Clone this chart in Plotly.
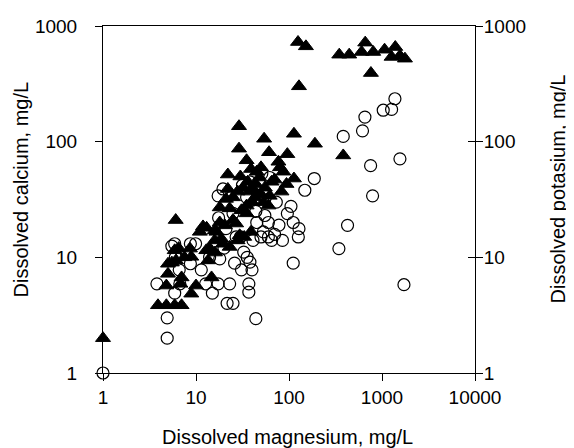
import plotly.graph_objects as go

# Calcium (triangles) vs magnesium
ca_mg = [1, 125, 152, 128, 347, 444, 660, 603, 805, 1066, 1389, 1268, 1559, 1765, 760, 383, 190, 113,
         29, 54, 29, 61, 96, 35, 77, 39, 22, 113, 6.05, 11.9, 15.9,
         3.9, 4.8, 5.9, 7.0, 4.8, 5.0, 5.0, 5.9, 6.1, 7.0,
         6.8, 8.9, 10, 8.6, 8.9, 12.9, 13.5, 14.7, 15.9, 16.6,
         18.7, 19.5, 23, 20.4, 25, 27, 29.5, 30.8, 18, 23,
         21, 22, 28, 32, 36, 38, 44, 48, 55, 43,
         53, 62, 70, 80, 87, 83, 94, 35, 28, 33,
         39, 13, 11,
         30, 40, 50, 45, 60, 25, 35, 65, 50, 42, 5.5, 6.5, 7.5, 16, 18, 14]
ca = [2, 727, 667, 301, 565, 565, 718, 596, 596, 624, 658, 540, 553, 522, 392, 76, 96, 117,
      136, 106, 87, 81, 78, 69, 67, 58, 52, 48, 21, 18.5, 17.1,
      3.85, 3.85, 3.85, 3.85, 5.7, 7.2, 8.8, 11.5, 9.4, 6.7,
      5.9, 4.85, 5.7, 11.9, 10.1, 11.5, 9.4, 6.7, 14, 16.6,
      14.5, 13.1, 12.3, 18.9, 21, 19.6, 15.5, 25.5, 27, 26.5,
      32, 39, 37, 40, 45, 37, 43, 49, 40, 33,
      30, 34, 47, 60, 55, 37, 43, 24, 14, 15,
      16.6, 18, 16.6,
      50, 30, 35, 55, 28, 33, 28, 45, 60, 38, 9, 12, 10, 11, 20, 12]

# Potassium (open circles) vs magnesium
k_mg = [1377, 1031, 1268, 655, 617, 383, 1559, 754, 792, 426,
        344, 1722, 187, 148, 111, 126, 128, 111, 96, 105,
        85, 78, 65, 60, 53, 70, 44, 37, 37, 40,
        38, 35.5, 32.6, 25, 21.6, 23, 17.3, 15, 12.7, 11.4,
        26, 30.8, 18, 4.9, 4.9, 3.8, 5.9, 6.7, 5.9, 8.7,
        9.9, 8.7, 6.6, 17.3, 19.5, 31.6, 17.5, 21, 27, 41,
        35, 51, 62, 44, 55, 73, 1,
        5.5, 6, 14, 20, 25, 38, 45, 60, 30, 50]
k = [235, 187, 190, 163, 124, 111, 71, 62, 34, 18.9,
     11.9, 5.8, 48, 38, 8.9, 15, 17.7, 20, 23.9, 27.6,
     14, 19, 14, 15, 16.6, 15.8, 2.95, 5.0, 5.9, 7.8,
     9.1, 10, 11.1, 4.0, 4.0, 5.9, 5.9, 4.9, 5.9, 7.8,
     8.9, 7.8, 9.7, 3.0, 2.0, 5.9, 4.9, 5.9, 13.1, 13.1,
     13.1, 8.8, 7.8, 34, 39, 42, 22, 17.7, 15, 14,
     33, 53, 49, 25, 23, 30, 1,
     12.5, 10, 10, 12, 24, 45, 20, 20, 15, 15]

x_ticks = [1, 10, 100, 1000, 10000]
y_ticks = [1, 10, 100, 1000]
x_title = "Dissolved magnesium, mg/L"
y_title = "Dissolved calcium, mg/L"
y2_title = "Dissolved potasium, mg/L"

FONT = "Arial, Liberation Sans, sans-serif"
TITLE_FONT = dict(family=FONT, size=20, color="black")

fig = go.Figure()
fig.add_trace(go.Scatter(
    x=ca_mg, y=ca, mode="markers", name="Calcium", cliponaxis=False,
    marker=dict(symbol="triangle-up", size=13, color="black",
                line=dict(color="black", width=1))))
fig.add_trace(go.Scatter(
    x=k_mg, y=k, mode="markers", name="Potasium", yaxis="y2", cliponaxis=False,
    marker=dict(symbol="circle-open", size=12, color="black",
                line=dict(color="black", width=1.2))))
# empty helper trace so the inner right-hand tick axis is drawn
fig.add_trace(go.Scatter(x=[], y=[], yaxis="y3", mode="markers", hoverinfo="skip"))

axis_common = dict(type="log", showgrid=False, zeroline=False, showline=True,
                   linecolor="black", linewidth=1, ticks="outside", ticklen=7,
                   tickcolor="black", tickwidth=1, automargin=False,
                   tickfont=dict(family=FONT, size=19, color="black"))

fig.update_layout(
    width=574, height=448,
    margin=dict(l=95, r=107, t=18, b=83, autoexpand=False),
    paper_bgcolor="white", plot_bgcolor="white",
    showlegend=False,
    font=dict(family=FONT, size=19, color="black"),
    xaxis=dict(**axis_common, range=[0, 4], tickvals=x_ticks,
               ticktext=[str(v) for v in x_ticks], mirror=True),
    yaxis=dict(**axis_common, range=[0, 3], tickvals=y_ticks,
               ticktext=[str(v) for v in y_ticks], ticklabelstandoff=14),
    yaxis2=dict(**axis_common, range=[0, 3], tickvals=y_ticks,
                ticktext=[str(v) for v in y_ticks], overlaying="y", side="right",
                ticklabelstandoff=-3),
    yaxis3=dict(type="log", range=[0, 3], overlaying="y", side="right", anchor="x",
                showgrid=False, zeroline=False, showline=False, ticks="inside",
                ticklen=7, tickcolor="black", tickvals=y_ticks, showticklabels=False,
                automargin=False),
    annotations=[
        dict(text=x_title, xref="paper", yref="paper", x=0.5, y=0, xanchor="center",
             yanchor="middle", yshift=-64, xshift=-2, showarrow=False, font=TITLE_FONT),
        dict(text=y_title, xref="paper", yref="paper", x=0, y=0.5, xanchor="center",
             yanchor="middle", xshift=-83, yshift=10, textangle=-90, showarrow=False,
             font=TITLE_FONT),
        dict(text=y2_title, xref="paper", yref="paper", x=1, y=0.5, xanchor="center",
             yanchor="middle", xshift=82, yshift=10, textangle=-90, showarrow=False,
             font=TITLE_FONT),
    ],
)

fig.write_html("out.html")
